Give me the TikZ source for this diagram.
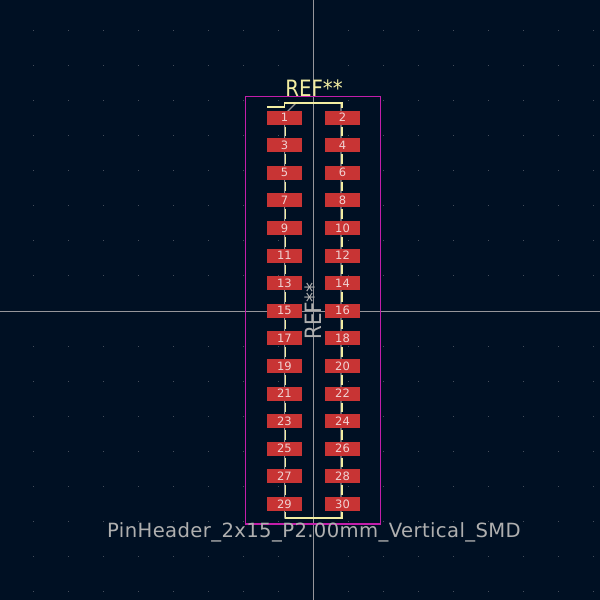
\documentclass[tikz,border=0pt]{standalone}
\usepackage{graphicx}
\usepackage{fontspec}
\setmainfont{DejaVu Sans}
\newfontfamily\valuefont[LetterSpace=2]{DejaVu Sans}
\definecolor{boardbg}{RGB}{0,16,35}
\definecolor{griddot}{RGB}{70,78,92}
\definecolor{crosshair}{RGB}{150,150,155}
\definecolor{padred}{RGB}{200,52,52}
\definecolor{padtext}{RGB}{240,210,210}
\definecolor{silk}{RGB}{242,237,161}
\definecolor{fabline}{RGB}{175,175,175}
\definecolor{fabdim}{RGB}{150,150,150}
\definecolor{crtyd}{RGB}{195,30,170}
\tikzset{
  x=1pt,y=-1pt,
  smdpad/.style={fill=padred,draw=none,inner sep=0pt,minimum width=35pt,minimum height=14pt,
    text=padtext,font=\fontsize{11.5}{11.5}\selectfont},
  silkline/.style={draw=silk,line width=1.3pt},
  fabdraw/.style={draw=fabdim,line width=1.1pt},
  refnode/.style={inner sep=0pt,font=\fontsize{22.5}{22.5}\selectfont}
}
\begin{document}
\begin{tikzpicture}
\useasboundingbox (0,0) rectangle (600,600);
\fill[boardbg] (0,0) rectangle (600,600);
% grid
\foreach \i in {-8,...,8}
  \foreach \j in {-8,...,8}
    \fill[griddot] ({313.5+35.05*\i-.5},{311+35.05*\j-.5}) rectangle +(1,1);
% axes
\draw[crosshair,line width=.9pt] (313.5,0) -- (313.5,600);
\draw[crosshair,line width=.9pt] (0,311) -- (600,311);
% courtyard
\draw[crtyd,line width=1.3pt] (245.8,96.8) rectangle (380.8,524);
% fab outline
\coordinate (fabA) at (296,103);
\coordinate (fabB) at (341,103);
\coordinate (fabC) at (341,518);
\coordinate (fabD) at (284.6,518);
\coordinate (fabE) at (284.6,114.4);
\draw[fabdraw] (fabA) -- (fabB) -- (fabC) -- (fabD) -- (fabE) -- cycle;
% pads and silk dashes
\foreach \k [evaluate=\k as \rowy using 117.5+27.6*\k, evaluate=\k as \numL using int(2*\k+1), evaluate=\k as \numR using int(2*\k+2)] in {0,...,14} {
  \node[smdpad] (pad\numL) at (284.5,\rowy) {\numL};
  \node[smdpad] (pad\numR) at (342.5,\rowy) {\numR};
}
\foreach \k [evaluate=\k as \rowy using 117.5+27.6*\k] in {0,...,13} {
  \draw[silkline] (285.6,\rowy+9) -- (285.6,\rowy+18.6);
  \draw[silkline] (342,\rowy+9) -- (342,\rowy+18.6);
}
% silk ends
\coordinate (silkS) at (267,107);
\coordinate (silkT) at (284.5,107);
\coordinate (silkU) at (284.5,103);
\coordinate (silkV) at (342,103);
\coordinate (silkW) at (342,108);
\draw[silkline] (silkS) -- (silkT) -- (silkU) -- (silkV) -- (silkW);
\coordinate (silkX) at (285.4,512);
\coordinate (silkY) at (285.4,518);
\coordinate (silkZ) at (342,518);
\coordinate (silkQ) at (342,512);
\draw[silkline] (silkX) -- (silkY) -- (silkZ) -- (silkQ);
% texts
\node[refnode,text=silk] (refTop) at (314,88) {\scalebox{.88}[1]{REF**}};
\node[refnode,text=fabline,rotate=90] (refFab) at (313.5,311) {\scalebox{.88}[1]{REF**}};
\node[inner sep=0pt,text=fabline,font=\valuefont\fontsize{19.6}{19.6}\selectfont] (valueText) at (314,532.5) {PinHeader\_2x15\_P2.00mm\_Vertical\_SMD};
\end{tikzpicture}
\end{document}
